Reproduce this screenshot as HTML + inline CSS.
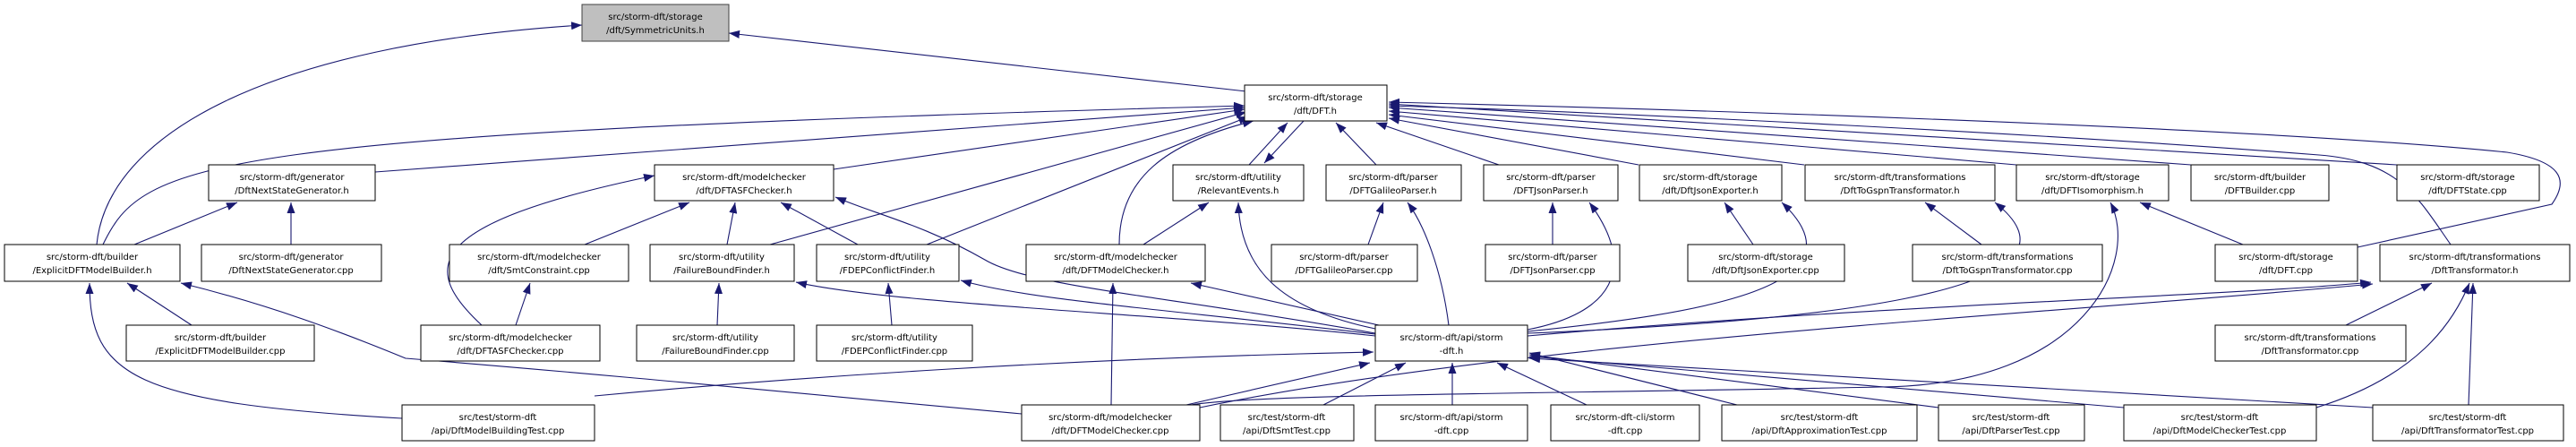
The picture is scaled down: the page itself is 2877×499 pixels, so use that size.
<!DOCTYPE html>
<html><head><meta charset="utf-8"><style>
html,body{margin:0;padding:0;background:#fff;}
svg{display:block;}
text{font-family:"DejaVu Sans","Liberation Sans",sans-serif;font-size:10px;fill:#000;}
.n{fill:#fff;stroke:#000;stroke-width:1;}
.g{fill:#bfbfbf;stroke:#404040;stroke-width:1;}
path{fill:none;stroke:#191970;stroke-width:1.1;}
</style></head><body>
<svg width="2877" height="499" viewBox="0 0 2877 499" xmlns="http://www.w3.org/2000/svg">
<defs><marker id="a" markerUnits="userSpaceOnUse" markerWidth="13" markerHeight="11" refX="12" refY="5.5" orient="auto"><polygon points="0,1 12,5.5 0,10" fill="#191970"/></marker></defs>
<g marker-end="url(#a)">
<path d="M1392,102 L814,37"/>
<path d="M108,273 C120,150 300,50 650,28"/>
<path d="M115,273 C160,180 220,150 1390,118"/>
<path d="M419,192 L1390,120"/>
<path d="M931,189 L1390,122"/>
<path d="M860,273 L1392,125"/>
<path d="M1035,273 L1395,130"/>
<path d="M1250,273 C1250,200 1300,160 1400,135"/>
<path d="M1395,184 L1438,137"/>
<path d="M1456,135 L1412,182"/>
<path d="M1537,184 L1492,137"/>
<path d="M1674,184 L1537,137"/>
<path d="M1830,184 L1551,132"/>
<path d="M2015,184 L1551,128"/>
<path d="M2252,184 L1551,124"/>
<path d="M2447,184 L1551,120"/>
<path d="M2677,184 L1551,116"/>
<path d="M2633,276 L2850,228 C2870,200 2860,180 2800,170 C2500,140 1800,120 1551,114"/>
<path d="M2737,273 C2700,220 2680,180 2590,173 C2300,150 1800,125 1551,118"/>
<path d="M150,273 L265,226"/>
<path d="M325,273 L325,226"/>
<path d="M653,273 L770,226"/>
<path d="M538,363 C470,300 470,250 731,196"/>
<path d="M812,273 L821,226"/>
<path d="M958,273 L872,226"/>
<path d="M1536,372 C1300,330 1150,320 1100,290 C1030,250 980,240 933,220"/>
<path d="M214,363 L142,316"/>
<path d="M449,467 C150,450 100,420 100,316"/>
<path d="M1141,462 C900,440 700,420 453,400 C380,370 300,340 202,316"/>
<path d="M576,363 L592,316"/>
<path d="M801,363 L803,316"/>
<path d="M1536,375 C1300,350 1000,340 889,315"/>
<path d="M996,363 L992,316"/>
<path d="M1536,373 C1300,345 1150,335 1073,313"/>
<path d="M1241,452 L1243,316"/>
<path d="M1540,363 L1330,316"/>
<path d="M1277,273 L1350,226"/>
<path d="M1536,367 C1430,345 1385,300 1383,226"/>
<path d="M1528,273 L1545,226"/>
<path d="M1618,363 C1610,300 1590,250 1572,226"/>
<path d="M1734,273 L1734,226"/>
<path d="M1706,368 C1800,350 1830,300 1775,226"/>
<path d="M1958,273 L1926,226"/>
<path d="M1706,370 C1900,350 2090,320 1990,226"/>
<path d="M2213,273 L2150,226"/>
<path d="M1706,372 C2000,360 2360,330 2228,226"/>
<path d="M2505,273 L2390,226"/>
<path d="M1330,452 C1400,440 1700,440 2100,432 C2330,430 2390,290 2357,226"/>
<path d="M1706,375 C2100,340 2500,330 2648,315"/>
<path d="M1340,455 C1700,380 2300,350 2650,317"/>
<path d="M2620,363 L2716,316"/>
<path d="M2587,455 C2700,420 2740,360 2758,316"/>
<path d="M2757,452 L2762,316"/>
<path d="M1325,452 L1530,405"/>
<path d="M664,442 C900,420 1200,400 1534,393"/>
<path d="M1478,452 L1570,405"/>
<path d="M1622,452 L1622,405"/>
<path d="M1772,452 L1672,405"/>
<path d="M1940,452 L1708,394"/>
<path d="M2165,455 L1708,396"/>
<path d="M2372,455 L1708,398"/>
<path d="M2650,455 L1708,400"/>
</g>
<g>
<rect class="g" x="650" y="5" width="164" height="41"/><text x="732" y="22" text-anchor="middle">src/storm-dft/storage</text><text x="732" y="37" text-anchor="middle">/dft/SymmetricUnits.h</text>
<rect class="n" x="1390" y="95" width="159" height="40"/><text x="1469" y="112" text-anchor="middle">src/storm-dft/storage</text><text x="1469" y="127" text-anchor="middle">/dft/DFT.h</text>

<rect class="n" x="233" y="184" width="186" height="40"/><text x="326" y="201" text-anchor="middle">src/storm-dft/generator</text><text x="326" y="216" text-anchor="middle">/DftNextStateGenerator.h</text>
<rect class="n" x="731" y="184" width="200" height="40"/><text x="831" y="201" text-anchor="middle">src/storm-dft/modelchecker</text><text x="831" y="216" text-anchor="middle">/dft/DFTASFChecker.h</text>
<rect class="n" x="1310" y="184" width="146" height="40"/><text x="1383" y="201" text-anchor="middle">src/storm-dft/utility</text><text x="1383" y="216" text-anchor="middle">/RelevantEvents.h</text>
<rect class="n" x="1481" y="184" width="151" height="40"/><text x="1556" y="201" text-anchor="middle">src/storm-dft/parser</text><text x="1556" y="216" text-anchor="middle">/DFTGalileoParser.h</text>
<rect class="n" x="1657" y="184" width="150" height="40"/><text x="1732" y="201" text-anchor="middle">src/storm-dft/parser</text><text x="1732" y="216" text-anchor="middle">/DFTJsonParser.h</text>
<rect class="n" x="1831" y="184" width="159" height="40"/><text x="1910" y="201" text-anchor="middle">src/storm-dft/storage</text><text x="1910" y="216" text-anchor="middle">/dft/DftJsonExporter.h</text>
<rect class="n" x="2016" y="184" width="212" height="40"/><text x="2122" y="201" text-anchor="middle">src/storm-dft/transformations</text><text x="2122" y="216" text-anchor="middle">/DftToGspnTransformator.h</text>
<rect class="n" x="2252" y="184" width="170" height="40"/><text x="2337" y="201" text-anchor="middle">src/storm-dft/storage</text><text x="2337" y="216" text-anchor="middle">/dft/DFTIsomorphism.h</text>
<rect class="n" x="2447" y="184" width="154" height="40"/><text x="2524" y="201" text-anchor="middle">src/storm-dft/builder</text><text x="2524" y="216" text-anchor="middle">/DFTBuilder.cpp</text>
<rect class="n" x="2677" y="184" width="159" height="40"/><text x="2756" y="201" text-anchor="middle">src/storm-dft/storage</text><text x="2756" y="216" text-anchor="middle">/dft/DFTState.cpp</text>

<rect class="n" x="5" y="273" width="196" height="41"/><text x="103" y="290" text-anchor="middle">src/storm-dft/builder</text><text x="103" y="305" text-anchor="middle">/ExplicitDFTModelBuilder.h</text>
<rect class="n" x="225" y="273" width="201" height="41"/><text x="325" y="290" text-anchor="middle">src/storm-dft/generator</text><text x="325" y="305" text-anchor="middle">/DftNextStateGenerator.cpp</text>
<rect class="n" x="502" y="273" width="200" height="41"/><text x="602" y="290" text-anchor="middle">src/storm-dft/modelchecker</text><text x="602" y="305" text-anchor="middle">/dft/SmtConstraint.cpp</text>
<rect class="n" x="726" y="273" width="161" height="41"/><text x="806" y="290" text-anchor="middle">src/storm-dft/utility</text><text x="806" y="305" text-anchor="middle">/FailureBoundFinder.h</text>
<rect class="n" x="912" y="273" width="159" height="41"/><text x="991" y="290" text-anchor="middle">src/storm-dft/utility</text><text x="991" y="305" text-anchor="middle">/FDEPConflictFinder.h</text>
<rect class="n" x="1146" y="273" width="200" height="41"/><text x="1246" y="290" text-anchor="middle">src/storm-dft/modelchecker</text><text x="1246" y="305" text-anchor="middle">/dft/DFTModelChecker.h</text>
<rect class="n" x="1420" y="273" width="163" height="41"/><text x="1501" y="290" text-anchor="middle">src/storm-dft/parser</text><text x="1501" y="305" text-anchor="middle">/DFTGalileoParser.cpp</text>
<rect class="n" x="1659" y="273" width="150" height="41"/><text x="1734" y="290" text-anchor="middle">src/storm-dft/parser</text><text x="1734" y="305" text-anchor="middle">/DFTJsonParser.cpp</text>
<rect class="n" x="1885" y="273" width="175" height="41"/><text x="1972" y="290" text-anchor="middle">src/storm-dft/storage</text><text x="1972" y="305" text-anchor="middle">/dft/DftJsonExporter.cpp</text>
<rect class="n" x="2136" y="273" width="212" height="41"/><text x="2242" y="290" text-anchor="middle">src/storm-dft/transformations</text><text x="2242" y="305" text-anchor="middle">/DftToGspnTransformator.cpp</text>
<rect class="n" x="2474" y="273" width="159" height="41"/><text x="2553" y="290" text-anchor="middle">src/storm-dft/storage</text><text x="2553" y="305" text-anchor="middle">/dft/DFT.cpp</text>
<rect class="n" x="2658" y="273" width="212" height="41"/><text x="2764" y="290" text-anchor="middle">src/storm-dft/transformations</text><text x="2764" y="305" text-anchor="middle">/DftTransformator.h</text>

<rect class="n" x="141" y="363" width="210" height="40"/><text x="246" y="380" text-anchor="middle">src/storm-dft/builder</text><text x="246" y="395" text-anchor="middle">/ExplicitDFTModelBuilder.cpp</text>
<rect class="n" x="470" y="363" width="200" height="40"/><text x="570" y="380" text-anchor="middle">src/storm-dft/modelchecker</text><text x="570" y="395" text-anchor="middle">/dft/DFTASFChecker.cpp</text>
<rect class="n" x="711" y="363" width="176" height="40"/><text x="799" y="380" text-anchor="middle">src/storm-dft/utility</text><text x="799" y="395" text-anchor="middle">/FailureBoundFinder.cpp</text>
<rect class="n" x="912" y="363" width="174" height="40"/><text x="999" y="380" text-anchor="middle">src/storm-dft/utility</text><text x="999" y="395" text-anchor="middle">/FDEPConflictFinder.cpp</text>
<rect class="n" x="1536" y="363" width="170" height="40"/><text x="1621" y="380" text-anchor="middle">src/storm-dft/api/storm</text><text x="1621" y="395" text-anchor="middle">-dft.h</text>
<rect class="n" x="2474" y="363" width="213" height="40"/><text x="2580" y="380" text-anchor="middle">src/storm-dft/transformations</text><text x="2580" y="395" text-anchor="middle">/DftTransformator.cpp</text>

<rect class="n" x="449" y="452" width="215" height="40"/><text x="556" y="469" text-anchor="middle">src/test/storm-dft</text><text x="556" y="484" text-anchor="middle">/api/DftModelBuildingTest.cpp</text>
<rect class="n" x="1141" y="452" width="199" height="40"/><text x="1240" y="469" text-anchor="middle">src/storm-dft/modelchecker</text><text x="1240" y="484" text-anchor="middle">/dft/DFTModelChecker.cpp</text>
<rect class="n" x="1363" y="452" width="149" height="40"/><text x="1437" y="469" text-anchor="middle">src/test/storm-dft</text><text x="1437" y="484" text-anchor="middle">/api/DftSmtTest.cpp</text>
<rect class="n" x="1536" y="452" width="170" height="40"/><text x="1621" y="469" text-anchor="middle">src/storm-dft/api/storm</text><text x="1621" y="484" text-anchor="middle">-dft.cpp</text>
<rect class="n" x="1732" y="452" width="166" height="40"/><text x="1815" y="469" text-anchor="middle">src/storm-dft-cli/storm</text><text x="1815" y="484" text-anchor="middle">-dft.cpp</text>
<rect class="n" x="1923" y="452" width="218" height="40"/><text x="2032" y="469" text-anchor="middle">src/test/storm-dft</text><text x="2032" y="484" text-anchor="middle">/api/DftApproximationTest.cpp</text>
<rect class="n" x="2165" y="452" width="163" height="40"/><text x="2246" y="469" text-anchor="middle">src/test/storm-dft</text><text x="2246" y="484" text-anchor="middle">/api/DftParserTest.cpp</text>
<rect class="n" x="2372" y="452" width="215" height="40"/><text x="2479" y="469" text-anchor="middle">src/test/storm-dft</text><text x="2479" y="484" text-anchor="middle">/api/DftModelCheckerTest.cpp</text>
<rect class="n" x="2650" y="452" width="213" height="40"/><text x="2756" y="469" text-anchor="middle">src/test/storm-dft</text><text x="2756" y="484" text-anchor="middle">/api/DftTransformatorTest.cpp</text>
</g>
</svg>
</body></html>
